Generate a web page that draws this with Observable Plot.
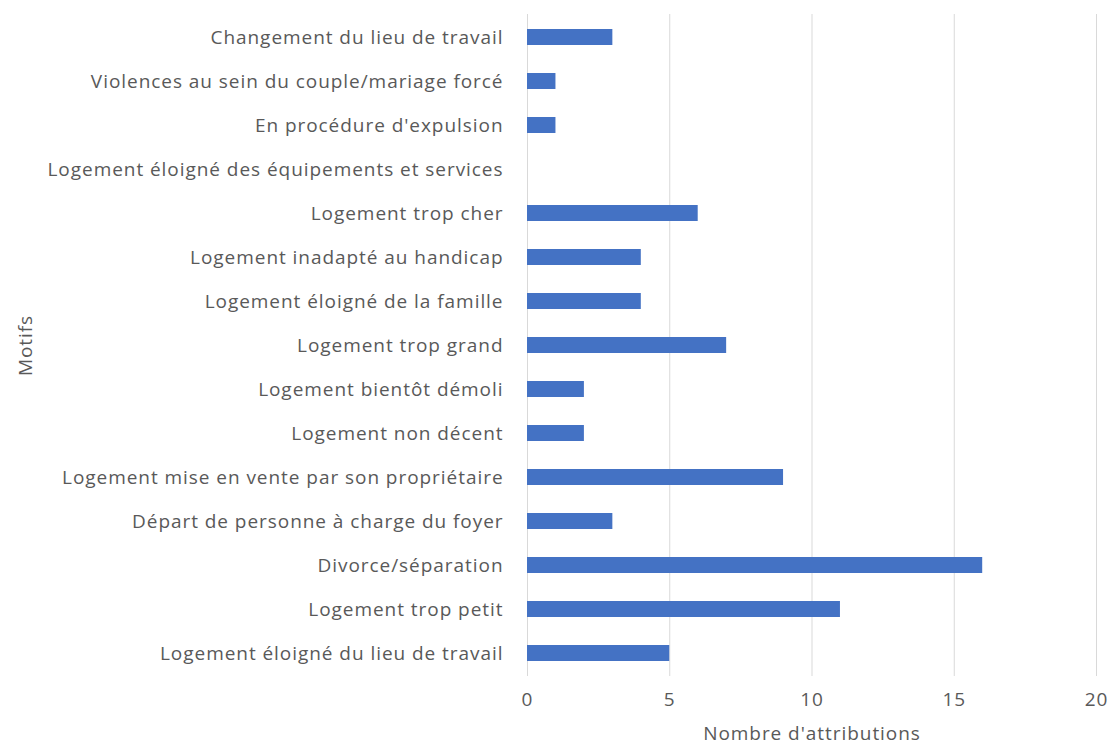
<!DOCTYPE html>
<html><head><meta charset="utf-8">
<script src="https://cdn.jsdelivr.net/npm/d3@7"></script>
<script src="https://cdn.jsdelivr.net/npm/@observablehq/plot@0.6"></script>
<style>body{margin:0;background:#fff;} svg{display:block;} svg text{letter-spacing:0.95px;}</style>
</head><body><div id="chart"></div>
<script>
const motifs = [
  "Changement du lieu de travail",
  "Violences au sein du couple/mariage forcé",
  "En procédure d'expulsion",
  "Logement éloigné des équipements et services",
  "Logement trop cher",
  "Logement inadapté au handicap",
  "Logement éloigné de la famille",
  "Logement trop grand",
  "Logement bientôt démoli",
  "Logement non décent",
  "Logement mise en vente par son propriétaire",
  "Départ de personne à charge du foyer",
  "Divorce/séparation",
  "Logement trop petit",
  "Logement éloigné du lieu de travail"
];
const attributions = [3, 1, 1, 0, 6, 4, 4, 7, 2, 2, 9, 3, 16, 11, 5];
const xTicks = [0, 5, 10, 15, 20];
const xLabel = "Nombre d'attributions";
const yLabel = "Motifs";

const data = motifs.map((m, i) => ({motif: m, value: attributions[i]}));
const font = "'Open Sans', 'Noto Sans', sans-serif";
const grey = "#595959";

const chart = Plot.plot({
  width: 1110,
  height: 747,
  marginLeft: 527,
  marginRight: 14,
  marginTop: 14,
  marginBottom: 71,
  style: {fontFamily: font, fontSize: "19px", color: grey, background: "#fff"},
  x: {domain: [0, 20], ticks: xTicks},
  y: {domain: motifs, paddingInner: 0.63, paddingOuter: 0.315},
  marks: [
    Plot.gridX(xTicks, {stroke: "#d9d9d9", strokeOpacity: 1, strokeWidth: 1}),
    Plot.barX(data, {x: "value", y: "motif", fill: "#4472C4"}),
    Plot.axisX({ticks: xTicks, tickSize: 0, tickPadding: 16, label: null, fontSize: 19, fill: grey}),
    Plot.axisY({tickSize: 0, tickPadding: 24, label: null, fontSize: 19, fill: grey}),
    Plot.text([xLabel], {frameAnchor: "bottom", dy: 57, lineAnchor: "middle", textAnchor: "middle", fontSize: 19, fill: grey}),
    Plot.text([yLabel], {frameAnchor: "left", dx: -502, rotate: -90, lineAnchor: "middle", textAnchor: "middle", fontSize: 19, fill: grey})
  ]
});
document.getElementById("chart").appendChild(chart);
</script></body></html>
